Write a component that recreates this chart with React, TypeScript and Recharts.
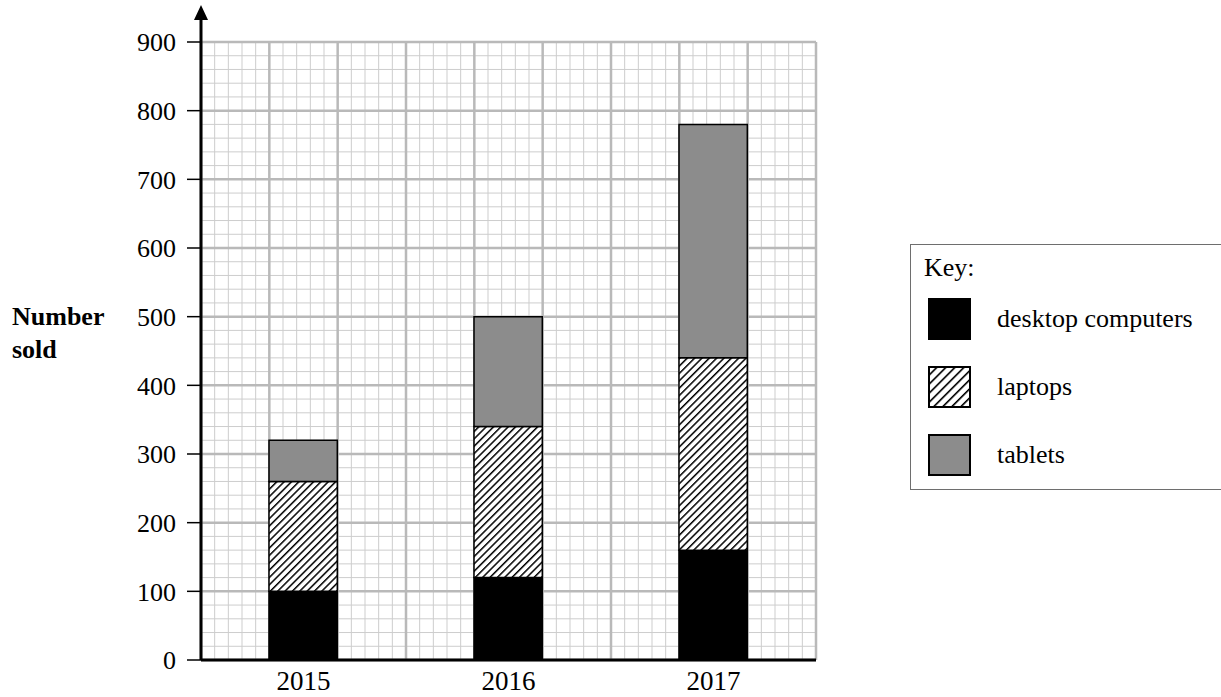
import { Bar, BarChart, CartesianGrid, Legend, XAxis, YAxis } from "recharts";

const years = ["2015", "2016", "2017"];
const desktopComputers = [100, 120, 160];
const laptops = [160, 220, 280];
const tablets = [60, 160, 340];
const yTicks = [0, 100, 200, 300, 400, 500, 600, 700, 800, 900];
const keyLabels = ["desktop computers", "laptops", "tablets"];

// graph paper: 5 small squares per big square, 9 big squares across
const BIG_COLS = 9;
const minorRows = Array.from({ length: 46 }, (_, i) => i * 20);

const data = years.map((year, i) => ({
  year,
  desktop: desktopComputers[i],
  laptops: laptops[i],
  tablets: tablets[i]
}));

const FONT = "Liberation Serif, Tinos, Times New Roman, Times, DejaVu Serif, serif";

const columnsOf = (count: number) => ({ offset }: any) =>
  Array.from({ length: count + 1 }, (_, i) => offset.left + (offset.width * i) / count);

function AxisArrow(props: any) {
  const vb = props.viewBox;
  if (!vb) return null;
  const x = vb.x + vb.width;
  const y = vb.y;
  return (
    <g>
      <line x1={x} y1={y} x2={x} y2={y - 26} stroke="#000" strokeWidth={3} />
      <polygon points={`${x},${y - 37} ${x - 7},${y - 22} ${x + 7},${y - 22}`} fill="#000" />
    </g>
  );
}

function Swatch({ index }: { index: number }) {
  return (
    <svg width={43} height={42} style={{ display: "block" }}>
      <defs>
        <pattern id="keyHatch" patternUnits="userSpaceOnUse" width={6.4} height={6.4} patternTransform="rotate(45)">
          <rect width={6.4} height={6.4} fill="#fff" />
          <rect width={1.6} height={6.4} fill="#000" />
        </pattern>
      </defs>
      <rect
        x={1}
        y={1}
        width={41}
        height={40}
        fill={index === 0 ? "#000" : index === 1 ? "url(#keyHatch)" : "#8c8c8c"}
        stroke="#000"
        strokeWidth={2}
      />
    </svg>
  );
}

function KeyBox() {
  return (
    <div
      style={{
        position: "relative",
        width: 340,
        height: 246,
        boxSizing: "border-box",
        border: "1px solid #6e6e6e",
        background: "#fff",
        fontFamily: FONT,
        color: "#000"
      }}
    >
      <div style={{ position: "absolute", left: 13, top: 8, fontSize: 26, lineHeight: "30px" }}>Key:</div>
      {keyLabels.map((name, i) => (
        <div
          key={name}
          style={{ position: "absolute", left: 17, top: 53 + i * 68, display: "flex", alignItems: "center" }}
        >
          <Swatch index={i} />
          <span style={{ marginLeft: 26, fontSize: 26, whiteSpace: "nowrap" }}>{name}</span>
        </div>
      ))}
    </div>
  );
}

export default function App() {
  return (
    <div
      style={{
        position: "absolute",
        left: 0,
        top: 0,
        width: 1221,
        height: 697,
        background: "#fff",
        overflow: "hidden",
        fontFamily: FONT
      }}
    >
      <BarChart width={1221} height={697} data={data} margin={{ top: 42, right: 405, bottom: 7, left: 111 }}>
        <defs>
          <pattern id="hatch" patternUnits="userSpaceOnUse" width={5.2} height={5.2} patternTransform="rotate(45)">
            <rect width={5.2} height={5.2} fill="#fff" />
            <rect width={1.5} height={5.2} fill="#000" />
          </pattern>
        </defs>
        <YAxis yAxisId="minor" type="number" domain={[0, 900]} ticks={minorRows} interval={0} allowDataOverflow hide />
        <CartesianGrid
          xAxisId="cat"
          yAxisId="minor"
          stroke="#cdcdcd"
          strokeWidth={1}
          fill="none"
          verticalCoordinatesGenerator={columnsOf(BIG_COLS * 5)}
        />
        <CartesianGrid
          xAxisId="cat"
          stroke="#b9b9b9"
          strokeWidth={2.5}
          fill="none"
          verticalCoordinatesGenerator={columnsOf(BIG_COLS)}
        />
        <XAxis
          xAxisId="cat"
          dataKey="year"
          height={30}
          axisLine={{ stroke: "#000", strokeWidth: 3 }}
          tickLine={false}
          tickMargin={5}
          tick={{ fill: "#000", fontSize: 27, fontFamily: FONT }}
        />
        <YAxis
          width={90}
          domain={[0, 900]}
          ticks={yTicks}
          interval={0}
          allowDataOverflow
          axisLine={{ stroke: "#000", strokeWidth: 3 }}
          tickLine={{ stroke: "#000", strokeWidth: 1.5 }}
          tickSize={14}
          tickMargin={11}
          tick={{ fill: "#000", fontSize: 26, fontFamily: FONT }}
          label={{ content: AxisArrow }}
        />
        <Bar xAxisId="cat" dataKey="desktop" name="desktop computers" stackId="s" fill="#000" stroke="#000" strokeWidth={1.5} barSize={68.3} isAnimationActive={false} />
        <Bar xAxisId="cat" dataKey="laptops" name="laptops" stackId="s" fill="url(#hatch)" stroke="#000" strokeWidth={1.5} barSize={68.3} isAnimationActive={false} />
        <Bar xAxisId="cat" dataKey="tablets" name="tablets" stackId="s" fill="#8c8c8c" stroke="#000" strokeWidth={1.5} barSize={68.3} isAnimationActive={false} />
        <Legend
          layout="horizontal"
          verticalAlign="middle"
          align="center"
          wrapperStyle={{ position: "absolute", left: 910, top: 244, width: 340, height: 246, margin: 0, padding: 0 }}
          content={KeyBox}
        />
      </BarChart>
      <div
        style={{
          position: "absolute",
          left: 12,
          top: 300,
          fontSize: 26,
          fontWeight: "bold",
          lineHeight: "33px",
          color: "#000"
        }}
      >
        Number
        <br />
        sold
      </div>
    </div>
  );
}
